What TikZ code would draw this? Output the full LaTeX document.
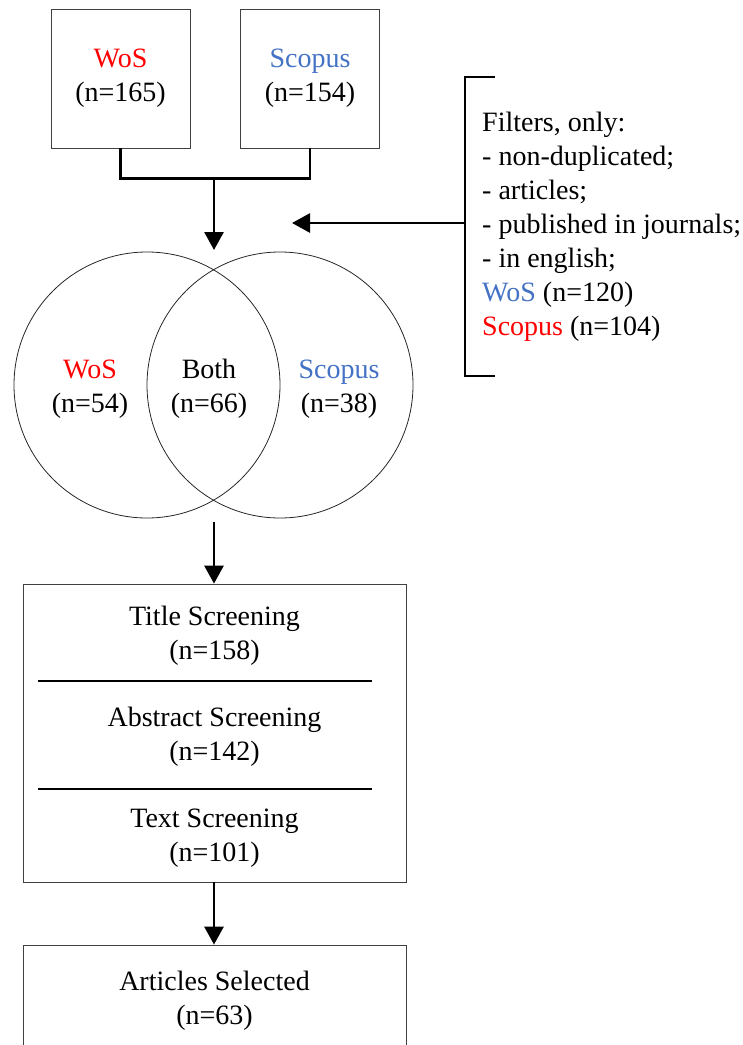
\documentclass[tikz,border=0pt]{standalone}
\usepackage{fontspec}
\setmainfont{Liberation Serif}
\usepackage{xcolor}
\usetikzlibrary{positioning, arrows.meta}
\definecolor{wosred}{RGB}{255,0,0}
\definecolor{scopusblue}{RGB}{68,114,196}
\tikzset{>={Triangle[length=18pt,width=19pt]}}
\tikzset{
  source/.style={draw=black!75, line width=0.8pt, minimum width=139pt, minimum height=139pt, align=center, inner sep=0pt},
  dbset/.style={draw=black!85, line width=0.8pt, circle, minimum size=266pt, inner sep=0pt},
  stage/.style={draw=black!75, line width=0.8pt, minimum width=383pt, inner sep=0pt},
  txt/.style={align=center, inner sep=0pt},
  flow/.style={line width=2.8pt},
}

\begin{document}
\begin{tikzpicture}[x=1pt, y=-1pt, font=\fontsize{28}{34}\selectfont]
  \clip (0,0) rectangle (743,1045);

  % START: Sources ---------------------------------
  \node[source] (wos) at (120.5,78.5) {\textcolor{wosred}{WoS}\\(n=165)};
  \node[source] (scopus) at (310,78.5) {\textcolor{scopusblue}{Scopus}\\(n=154)};
  \coordinate (join) at (214,178);
  \coordinate (venn_top) at (214,250);
  % END: Sources -----------------------------------

  % START: Venn ------------------------------------
  \node[dbset] (venn_l) at (147,385) {};
  \node[dbset] (venn_r) at (280,385) {};
  \node[txt] (only_wos) at (90,389) {\textcolor{wosred}{WoS}\\(n=54)};
  \node[txt] (both) at (209,389) {Both\\(n=66)};
  \node[txt] (only_scopus) at (339,389) {\textcolor{scopusblue}{Scopus}\\(n=38)};
  \coordinate (venn_bot) at (214,522);
  % END: Venn --------------------------------------

  % START: Filters ---------------------------------
  \node[txt, align=left, anchor=west] (filters) at (482,226.5)
    {Filters, only:\\- non-duplicated;\\- articles;\\- published in journals;\\- in english;\\
     \textcolor{scopusblue}{WoS} (n=120)\\\textcolor{wosred}{Scopus} (n=104)};
  \coordinate (br_top) at (495,77);
  \coordinate (br_mid) at (465,223);
  \coordinate (br_bot) at (495,376);
  \coordinate (filter_tip) at (292,223);
  % END: Filters -----------------------------------

  % START: Screening -------------------------------
  \node[stage, minimum height=298pt] (screen) at (214.5,733) {};
  \node[txt] (title) at (214.5,636) {Title Screening\\(n=158)};
  \node[txt] (abstract) at (214.5,737) {Abstract Screening\\(n=142)};
  \node[txt] (fulltext) at (214.5,838) {Text Screening\\(n=101)};
  \node[stage, minimum height=130pt] (selected) at (214.5,1010) {};
  \node[txt] (articles) at (214.5,1001) {Articles Selected\\(n=63)};
  % END: Screening ---------------------------------

  % Connectors
  \draw[flow] (wos.south) -- ++(0,30) -| (scopus.south);
  \draw[flow, ->] (join) -- (venn_top);
  \draw[flow] (br_top) -- (br_top -| br_mid) -- (br_bot -| br_mid) -- (br_bot);
  \draw[flow, ->] (br_mid) -- (filter_tip);
  \draw[flow, ->] (venn_bot) -- (screen.north -| venn_bot);
  \draw[flow] (38,681) -- (372,681);
  \draw[flow] (38,789) -- (372,789);
  \draw[flow, ->] (screen.south -| venn_bot) -- (selected.north -| venn_bot);
\end{tikzpicture}
\end{document}
